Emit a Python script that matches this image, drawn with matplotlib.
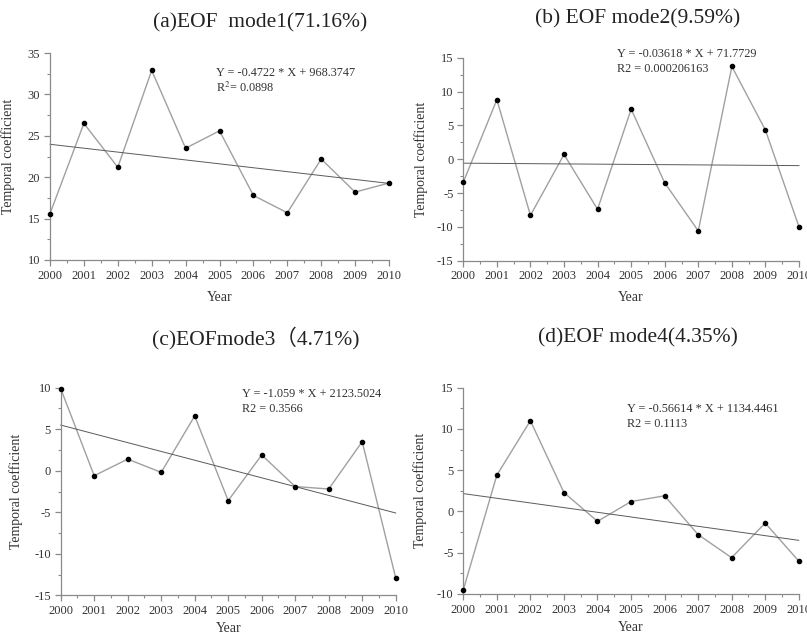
import matplotlib
matplotlib.use("Agg")
import matplotlib.pyplot as plt
from matplotlib.ticker import MultipleLocator
import numpy as np

plt.rcParams['font.family'] = ['Liberation Serif', 'Noto Sans CJK SC', 'DejaVu Serif']
plt.rcParams['mathtext.fontset'] = 'stix'
plt.rcParams['axes.unicode_minus'] = False

years = [2000, 2001, 2002, 2003, 2004, 2005, 2006, 2007, 2008, 2009, 2010]

mode1 = [15.6, 26.5, 21.2, 32.9, 23.5, 25.6, 17.8, 15.7, 22.2, 18.2, 19.3]
mode2 = [-3.4, 8.8, -8.3, 0.7, -7.4, 7.4, -3.5, -10.6, 13.7, 4.3, -10.0]
mode3 = [9.9, -0.6, 1.4, -0.2, 6.6, -3.6, 1.9, -1.9, -2.2, 3.5, -12.9]
mode4 = [-9.5, 4.4, 11.0, 2.3, -1.2, 1.2, 1.9, -2.8, -5.6, -1.4, -6.0]

slopes = [-0.4722, -0.03618, -1.059, -0.56614]
intercepts = [968.3747, 71.7729, 2123.5024, 1134.4461]

titles = ["(a)EOF  mode1(71.16%)", "(b) EOF mode2(9.59%)",
          "(c)EOFmode3\uff084.71%)", "(d)EOF mode4(4.35%)"]
eq_texts = ["Y = -0.4722 * X + 968.3747", "Y = -0.03618 * X + 71.7729",
            "Y = -1.059 * X + 2123.5024", "Y = -0.56614 * X + 1134.4461"]
r2_texts = ["R$^2$= 0.0898", "R2 = 0.000206163", "R2 = 0.3566", "R2 = 0.1113"]
ylims = [(10, 35), (-15, 15), (-15, 10), (-10, 15)]

series = [mode1, mode2, mode3, mode4]

W, H = 807, 635
# axes boxes in pixels: left, top, right, bottom
boxes = [(50, 53, 389, 260), (463.3, 57.7, 799, 260.7),
         (60.7, 387.7, 395.7, 595.3), (463.3, 387.7, 798.7, 594)]
title_pos = [(260, 23), (638, 19), (256, 338), (638, 338)]
eq_pos = [(0.49, 0.905, 0.834), (0.459, 1.02, 0.944),
          (0.542, 0.970, 0.896), (0.487, 0.895, 0.824)]
ylab_x = [-0.103, -0.105, -0.112, -0.108]
xlab_y = [-0.15, -0.15, -0.13, -0.13]

fig = plt.figure(figsize=(W / 100, H / 100), dpi=100)

axis_col = '#8a8a8a'
text_col = '#333333'

for i in range(4):
    l, t, r, b = boxes[i]
    ax = fig.add_axes([l / W, 1 - b / H, (r - l) / W, (b - t) / H])
    x = np.array(years)
    ax.plot(x, series[i], color='#a0a0a0', lw=1.0, zorder=2, clip_on=False)
    ax.plot(x, series[i], 'o', color='black', ms=3, zorder=3, clip_on=False)
    ax.plot(x, slopes[i] * x + intercepts[i], color='#5a5a5a', lw=0.7, zorder=2,
            clip_on=False)
    ax.set_xlim(2000, 2010)
    ax.set_ylim(*ylims[i])
    ax.set_xticks(years)
    ax.set_yticks(np.arange(ylims[i][0], ylims[i][1] + 1, 5))
    ax.xaxis.set_minor_locator(MultipleLocator(0.5))
    ax.yaxis.set_minor_locator(MultipleLocator(2.5))
    for s in ['top', 'right']:
        ax.spines[s].set_visible(False)
    for s in ['left', 'bottom']:
        ax.spines[s].set_color(axis_col)
        ax.spines[s].set_linewidth(0.9)
    ax.tick_params(which='major', direction='out', length=4, width=0.9,
                   color=axis_col, labelsize=9, labelcolor=text_col, pad=3)
    ax.tick_params(which='minor', direction='out', length=2.5, width=0.8,
                   color=axis_col)
    ax.set_xlabel('Year', fontsize=10, color=text_col)
    ax.xaxis.set_label_coords(0.5, xlab_y[i])
    ax.set_ylabel('Temporal coefficient', fontsize=10, color=text_col)
    ax.yaxis.set_label_coords(ylab_x[i], 0.5)
    ex, ey1, ey2 = eq_pos[i]
    ax.text(ex, ey1, eq_texts[i], transform=ax.transAxes, fontsize=8.8,
            color=text_col, va='center', ha='left')
    ax.text(ex, ey2, r2_texts[i], transform=ax.transAxes, fontsize=8.8,
            color=text_col, va='center', ha='left')
    tx, ty = title_pos[i]
    fig.text(tx / W, 1 - ty / H, titles[i], fontsize=15.5, color='#222222',
             ha='center', va='center')

fig.savefig('out.png', dpi=100)
